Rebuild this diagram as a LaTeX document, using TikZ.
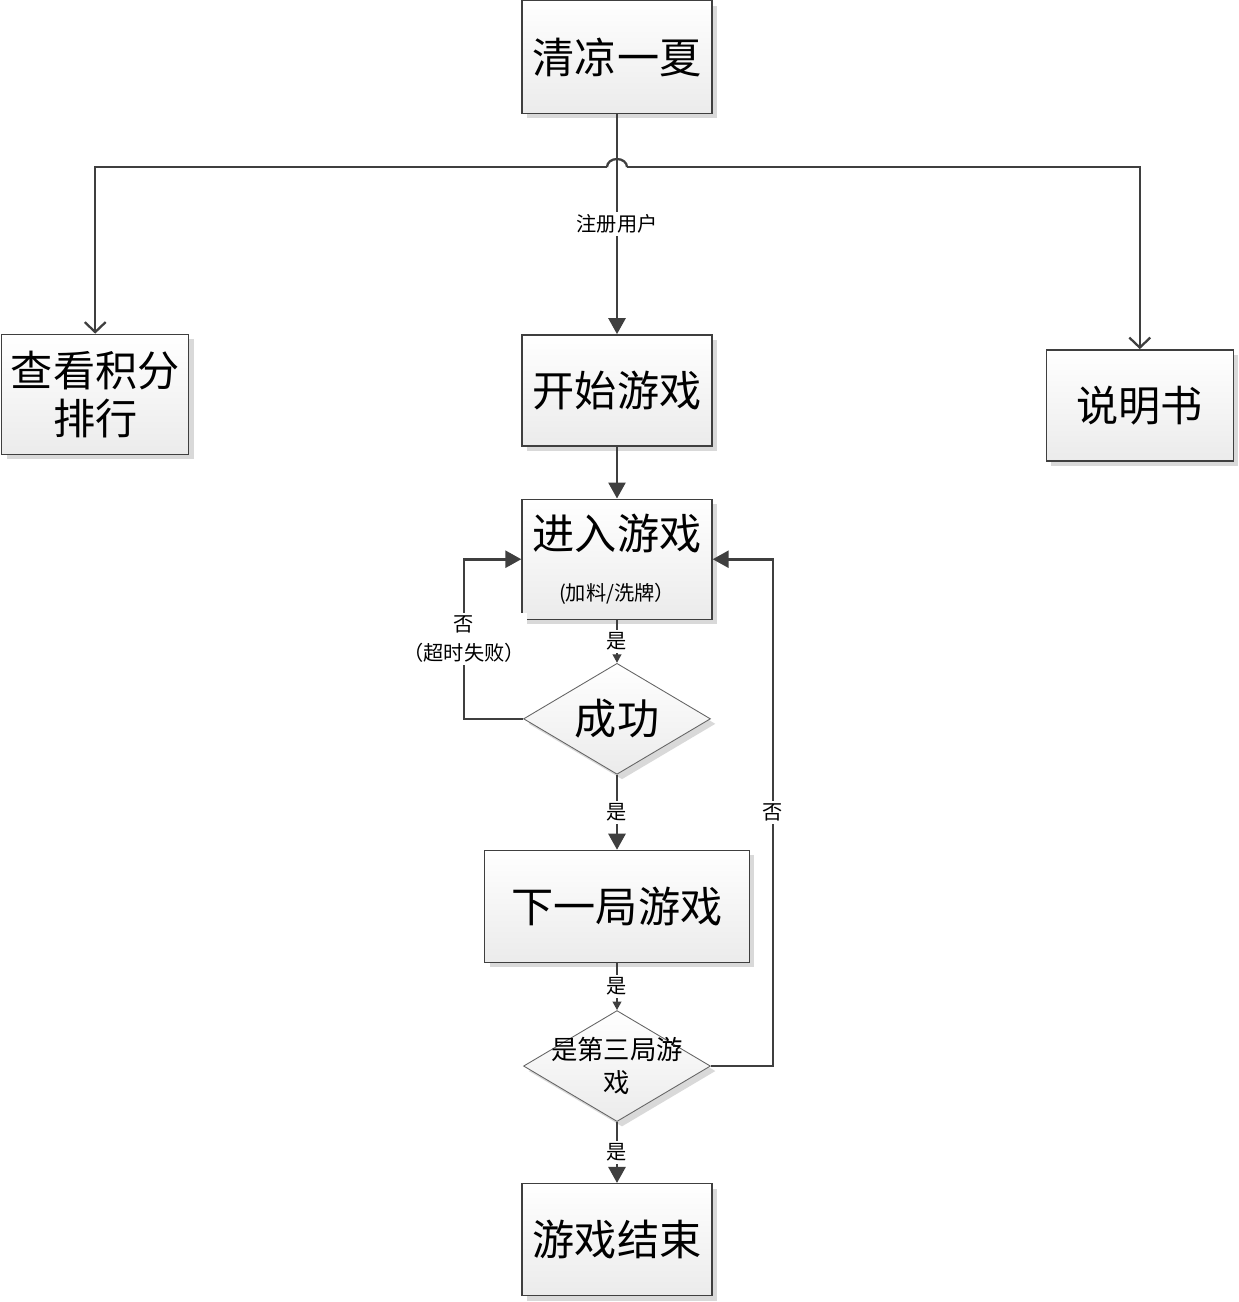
\documentclass[tikz,border=0pt]{standalone}
\usepackage{fontspec}
\setmainfont{Noto Sans CJK SC}
\usepackage{tikz}
\usetikzlibrary{arrows.meta,positioning,shapes.geometric,shadows}
\definecolor{linegray}{HTML}{3F3F3F}
\definecolor{boxgray}{HTML}{EBEBEB}
\definecolor{shadegray}{HTML}{D9D9D9}
\tikzset{
  stepbox/.style={
    rectangle, draw=linegray, line width=0.8pt,
    top color=white, bottom color=boxgray,
    minimum width=3.8cm, minimum height=2.26cm, inner sep=0pt,
    align=center, font=\fontsize{24}{30}\selectfont,
    drop shadow={shadow xshift=0.1cm, shadow yshift=-0.1cm, fill=shadegray, opacity=1}
  },
  decision/.style={
    diamond, draw=linegray!80, line width=0.5pt,
    top color=white, bottom color=boxgray,
    minimum width=3.74cm, minimum height=2.22cm, inner sep=0pt,
    drop shadow={shadow xshift=0.1cm, shadow yshift=-0.1cm, fill=shadegray, opacity=1}
  },
  flowarrow/.style={-{Triangle[length=0.32cm,width=0.34cm]}, line width=1.5pt, color=linegray},
  smallarrow/.style={-{Triangle[length=0.17cm,width=0.17cm]}, line width=1.2pt, color=linegray},
  sidearrow/.style={-{Straight Barb[length=0.2cm,width=0.42cm]}, line width=1.3pt, color=linegray},
  linelabel/.style={fill=white, text=black, inner sep=1.5pt, font=\fontsize{11.5}{17}\selectfont},
}
\begin{document}
\begin{tikzpicture}[x=0.02cm, y=-0.02cm]
  \useasboundingbox (0,0) rectangle (1238,1302);
  % main column
  \node[stepbox, minimum height=2.26cm] (title) at (617,57) {清凉一夏};
  \node[stepbox, minimum height=2.22cm, below=4.4cm of title] (start) {开始游戏};
  \node[stepbox, minimum width=3.74cm, minimum height=2.4cm, left=6.64cm of start, yshift=-0.08cm] (rank) {查看积分\\[-0.1cm]排行};
  \node[stepbox, minimum width=3.74cm, minimum height=2.22cm, right=6.66cm of start, yshift=-0.3cm] (manual) {说明书};
  \node[stepbox, minimum height=2.4cm, below=1.04cm of start] (enter)
    {进入游戏\\[-0.02cm]{\fontsize{11.5}{14}\selectfont (加料/洗牌）}};
  \node[decision, below=0.86cm of enter,
    label={[font=\fontsize{24}{30}\selectfont]center:成功}] (success) {};
  \node[stepbox, minimum width=5.3cm, minimum height=2.24cm, below=1.5cm of success] (next) {下一局游戏};
  \node[decision, below=0.94cm of next,
    label={[font=\fontsize{15}{19}\selectfont, align=center]center:是第三局游\\戏}] (third) {};
  \node[stepbox, minimum height=2.24cm, below=1.22cm of third] (finish) {游戏结束};

  % branches with the hop
  \coordinate (hopL) at (607,167);
  \coordinate (hopR) at (627,167);
  \draw[line width=1.3pt, color=linegray] (hopL) arc[start angle=180, end angle=0, x radius=0.2cm, y radius=0.16cm];
  \draw[sidearrow] (hopL) -| (rank.north);
  \draw[sidearrow] (hopR) -| (manual.north);
  \draw[flowarrow] (title) -- node[linelabel]{注册用户} (start);

  \draw[flowarrow] (start) -- (enter);
  \draw[smallarrow] (enter) -- node[linelabel]{是} (success);
  \draw[flowarrow] (success.west) -- ++(-59,0) |- node[pos=0.25, linelabel, align=center]{否\\（超时失败）} (enter.west);
  \draw[flowarrow] (success) -- node[linelabel]{是} (next);
  \draw[smallarrow] (next) -- node[linelabel]{是} (third);
  \draw[flowarrow] (third.east) -- ++(62,0) |- node[pos=0.25, linelabel]{否} (enter.east);
  \draw[flowarrow] (third) -- node[linelabel]{是} (finish);
\end{tikzpicture}
\end{document}
